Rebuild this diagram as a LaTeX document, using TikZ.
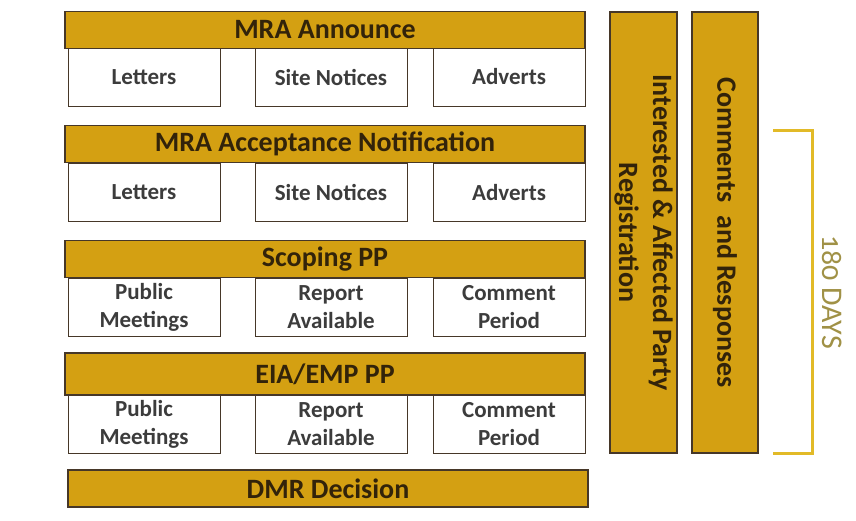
\documentclass[tikz,border=0pt]{standalone}
\usepackage{fontspec}
\setmainfont{Carlito}
\usetikzlibrary{positioning}

\definecolor{gold}{RGB}{212,160,18}
\definecolor{goldline}{RGB}{226,186,40}
\definecolor{edge}{RGB}{70,55,40}
\definecolor{hdrtext}{RGB}{50,35,10}
\definecolor{itemtext}{RGB}{60,60,60}
\definecolor{daystext}{RGB}{160,145,70}

\begin{document}
\begin{tikzpicture}[x=1pt,y=-1pt,
        hdr/.style={draw=edge, line width=1.2pt, fill=gold, text=hdrtext, font=\fontsize{28}{30}\selectfont\bfseries, minimum width=520pt, minimum height=37pt, inner sep=0pt},
        item/.style={draw=edge, line width=1pt, fill=white, text=itemtext, font=\fontsize{23}{28}\selectfont\bfseries, minimum width=152pt, minimum height=58pt, inner sep=0pt, align=center},
        bar/.style={draw=edge, line width=1.2pt, fill=gold, text=hdrtext, font=\fontsize{28}{34}\selectfont\bfseries, minimum width=441pt, inner sep=0pt, align=center, rotate=-90}]
        \useasboundingbox (0,0) rectangle (856,520);

        % MRA announce
        \node[item] (letA) at (144,77) {Letters};
        \node[item] (siteA) at (331,77) {Site Notices};
        \node[item] (advA) at (509,77) {Adverts};
        \node[hdr] (announce) at (325,30) {MRA Announce};

        % acceptance
        \node[item] (letB) at (144,192.5) {Letters};
        \node[item] (siteB) at (331,192.5) {Site Notices};
        \node[item] (advB) at (509,192.5) {Adverts};
        \node[hdr] (accept) at (325,144) {MRA Acceptance Notification};

        % scoping
        \node[item] (pubC) at (144,307.5) {Public\\Meetings};
        \node[item] (repC) at (331,307.5) {Report\\Available};
        \node[item] (comC) at (509,307.5) {Comment\\Period};
        \node[hdr] (scoping) at (325,259) {Scoping PP};

        % EIA/EMP
        \node[item] (pubD) at (144,424.5) {Public\\Meetings};
        \node[item] (repD) at (331,424.5) {Report\\Available};
        \node[item] (comD) at (509,424.5) {Comment\\Period};
        \node[hdr, minimum height=42pt] (eia) at (325,374) {EIA/EMP PP};

        \node[hdr] (dmr) at (328,488.5) {DMR Decision};

        % side bars
        \node[bar, minimum height=67pt] (iap) at (643.5,232.5) {Interested \& Affected Party\\Registration};
        \node[bar, minimum height=66pt] (crr) at (725,232.5) {Comments~ and Responses};

        % 180 days
        \coordinate (brTop) at (773,130);
        \coordinate (brBot) at (773,453);
        \draw[goldline, line width=3pt] (brTop) -- (812,130) -- (812,453) -- (brBot);
        \node[text=daystext, rotate=-90, font=\fontsize{30}{32}\selectfont\addfontfeatures{Numbers=OldStyle}] (days) at (832,292) {180 DAYS};
    \end{tikzpicture}
\end{document}
